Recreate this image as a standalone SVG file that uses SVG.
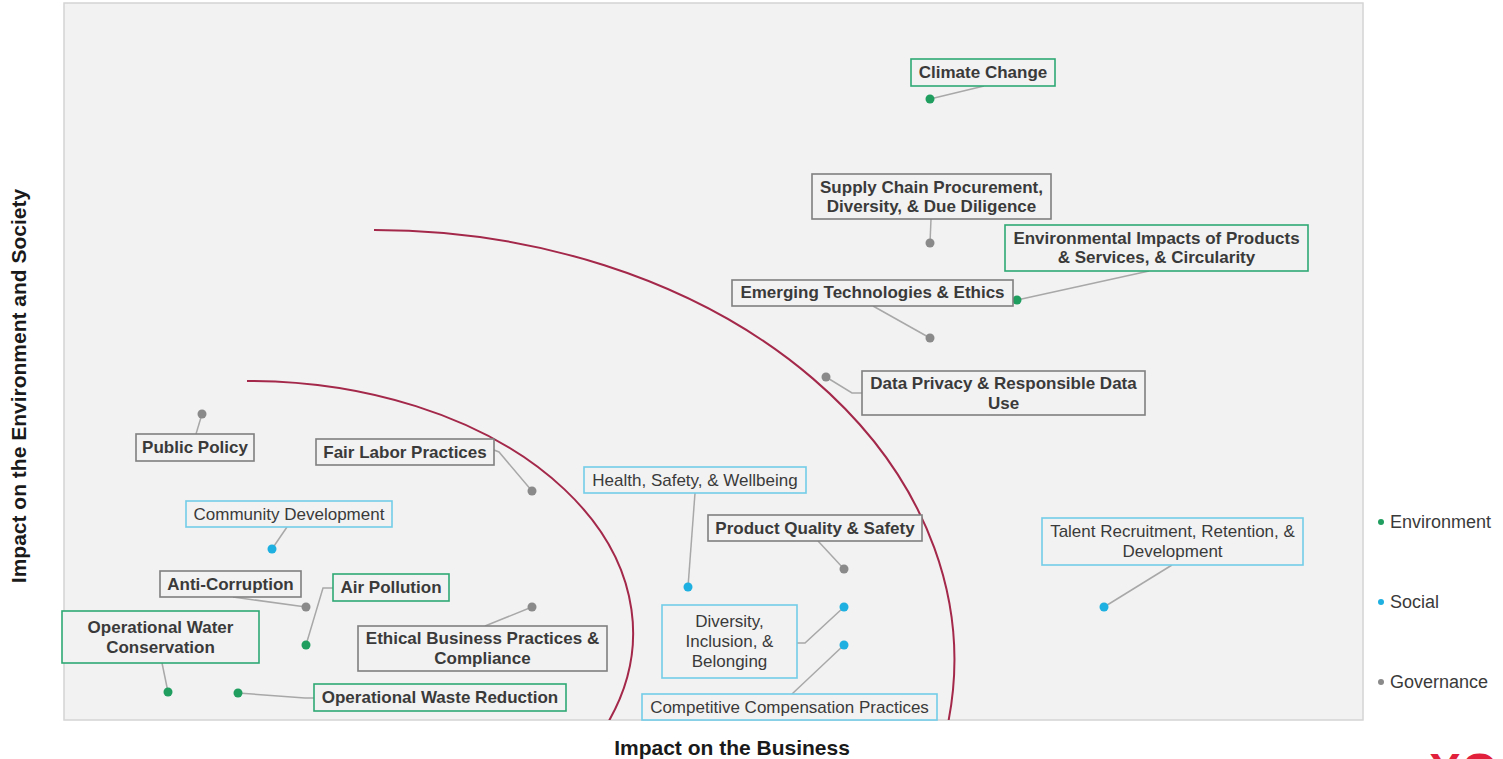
<svg xmlns="http://www.w3.org/2000/svg" width="1503" height="759" viewBox="0 0 1503 759">
<style>
.bg{fill:#f2f2f2;stroke:#d4d4d4;stroke-width:1.5}
.arc{fill:none;stroke:#a3284a;stroke-width:2}
.box{fill:#f2f2f2;stroke-width:1.6}
.env{stroke:#2ea873}
.soc{stroke:#72cce6}
.gov{stroke:#7f7f7f}
.lb{font-family:"Liberation Sans",Arial,sans-serif;font-size:17px;fill:#3a3a3a;text-anchor:middle}
.b{font-weight:bold}
.ce{fill:#1f9e60}
.cs{fill:#1eb0e0}
.cg{fill:#8a8a8a}
.con{fill:none;stroke:#a8a8a8;stroke-width:1.5}
.leg{font-family:"Liberation Sans",Arial,sans-serif;font-size:18px;fill:#3a3a3a}
.axis{font-family:"Liberation Sans",Arial,sans-serif;font-size:21px;font-weight:bold;fill:#1a1a1a;text-anchor:middle}
</style>
<defs>
<clipPath id="plotclip"><rect x="64" y="3" width="1299" height="717"/></clipPath>
</defs>
<rect width="1503" height="759" fill="#ffffff"/>
<rect class="bg" x="64" y="3" width="1299" height="717"/>
<g id="arcs" clip-path="url(#plotclip)">
<path class="arc" d="M 374 230 A 580 430 0 0 1 948.3 722"/>
<path class="arc" d="M 247 381 A 385 252 0 0 1 608.3 722"/>
</g>
<g id="connectors">
<line class="con" x1="930" y1="99" x2="984" y2="86"/>
<line class="con" x1="931" y1="219" x2="930" y2="243"/>
<line class="con" x1="1017" y1="300" x2="1149" y2="271"/>
<line class="con" x1="873" y1="306" x2="930" y2="338"/>
<polyline class="con" points="826,377 852,393 862,393"/>
<line class="con" x1="202" y1="414" x2="196" y2="434"/>
<polyline class="con" points="494,450 499,452 532,491"/>
<line class="con" x1="287" y1="527" x2="272" y2="549"/>
<line class="con" x1="233" y1="597" x2="306" y2="607"/>
<polyline class="con" points="306,645 323,588 333,588"/>
<line class="con" x1="162" y1="663" x2="168" y2="692"/>
<polyline class="con" points="238,693 305,698 314,698"/>
<line class="con" x1="485" y1="626" x2="532" y2="607"/>
<line class="con" x1="695" y1="493" x2="688" y2="587"/>
<line class="con" x1="818" y1="541" x2="844" y2="569"/>
<polyline class="con" points="797,643 805,643 844,607"/>
<line class="con" x1="792" y1="694" x2="844" y2="645"/>
<line class="con" x1="1172" y1="565" x2="1104" y2="607"/>
</g>
<g id="climate-change">
<rect class="box env" x="911" y="59" width="144" height="27"/>
<text class="lb b" x="983" y="78">Climate Change</text>
<circle class="ce" cx="930" cy="99" r="4.5"/>
</g>
<g id="supply-chain">
<rect class="box gov" x="812" y="174" width="239" height="45"/>
<text class="lb b" x="931.5" y="193">Supply Chain Procurement,</text>
<text class="lb b" x="931.5" y="212">Diversity, &amp; Due Diligence</text>
<circle class="cg" cx="930" cy="243" r="4.5"/>
</g>
<g id="environmental-impacts">
<rect class="box env" x="1005" y="225" width="303" height="46"/>
<text class="lb b" x="1156.5" y="244">Environmental Impacts of Products</text>
<text class="lb b" x="1156.5" y="263">&amp; Services, &amp; Circularity</text>
<circle class="ce" cx="1017" cy="300" r="4.5"/>
</g>
<g id="emerging-tech">
<rect class="box gov" x="732" y="280" width="281" height="26"/>
<text class="lb b" x="872.5" y="298">Emerging Technologies &amp; Ethics</text>
<circle class="cg" cx="930" cy="338" r="4.5"/>
</g>
<g id="data-privacy">
<rect class="box gov" x="862" y="371" width="283" height="44"/>
<text class="lb b" x="1003.5" y="389">Data Privacy &amp; Responsible Data</text>
<text class="lb b" x="1003.5" y="409">Use</text>
<circle class="cg" cx="826" cy="377" r="4.5"/>
</g>
<g id="public-policy">
<rect class="box gov" x="136" y="434" width="118" height="27"/>
<text class="lb b" x="195" y="453">Public Policy</text>
<circle class="cg" cx="202" cy="414" r="4.5"/>
</g>
<g id="fair-labor">
<rect class="box gov" x="316" y="439" width="178" height="26"/>
<text class="lb b" x="405" y="458">Fair Labor Practices</text>
<circle class="cg" cx="532" cy="491" r="4.5"/>
</g>
<g id="community-development">
<rect class="box soc" x="186" y="501" width="206" height="26"/>
<text class="lb" x="289" y="520">Community Development</text>
<circle class="cs" cx="272" cy="549" r="4.5"/>
</g>
<g id="anti-corruption">
<rect class="box gov" x="160" y="571" width="141" height="26"/>
<text class="lb b" x="230.5" y="590">Anti-Corruption</text>
<circle class="cg" cx="306" cy="607" r="4.5"/>
</g>
<g id="air-pollution">
<rect class="box env" x="333" y="574" width="116" height="27"/>
<text class="lb b" x="391" y="593">Air Pollution</text>
<circle class="ce" cx="306" cy="645" r="4.5"/>
</g>
<g id="water-conservation">
<rect class="box env" x="62" y="611" width="197" height="52"/>
<text class="lb b" x="160.5" y="633">Operational Water</text>
<text class="lb b" x="160.5" y="653">Conservation</text>
<circle class="ce" cx="168" cy="692" r="4.5"/>
</g>
<g id="waste-reduction">
<rect class="box env" x="314" y="684" width="252" height="27"/>
<text class="lb b" x="440" y="703">Operational Waste Reduction</text>
<circle class="ce" cx="238" cy="693" r="4.5"/>
</g>
<g id="ethical-business">
<rect class="box gov" x="358" y="626" width="249" height="45"/>
<text class="lb b" x="482.5" y="644">Ethical Business Practices &amp;</text>
<text class="lb b" x="482.5" y="664">Compliance</text>
<circle class="cg" cx="532" cy="607" r="4.5"/>
</g>
<g id="health-safety">
<rect class="box soc" x="584" y="467" width="222" height="26"/>
<text class="lb" x="695" y="486">Health, Safety, &amp; Wellbeing</text>
<circle class="cs" cx="688" cy="587" r="4.5"/>
</g>
<g id="product-quality">
<rect class="box gov" x="708" y="515" width="214" height="26"/>
<text class="lb b" x="815" y="534">Product Quality &amp; Safety</text>
<circle class="cg" cx="844" cy="569" r="4.5"/>
</g>
<g id="diversity-inclusion">
<rect class="box soc" x="662" y="605" width="135" height="73"/>
<text class="lb" x="729.5" y="627">Diversity,</text>
<text class="lb" x="729.5" y="647">Inclusion, &amp;</text>
<text class="lb" x="729.5" y="667">Belonging</text>
<circle class="cs" cx="844" cy="607" r="4.5"/>
</g>
<g id="competitive-compensation">
<rect class="box soc" x="642" y="694" width="295" height="26"/>
<text class="lb" x="789.5" y="713">Competitive Compensation Practices</text>
<circle class="cs" cx="844" cy="645" r="4.5"/>
</g>
<g id="talent-recruitment">
<rect class="box soc" x="1042" y="518" width="261" height="47"/>
<text class="lb" x="1172.5" y="537">Talent Recruitment, Retention, &amp;</text>
<text class="lb" x="1172.5" y="557">Development</text>
<circle class="cs" cx="1104" cy="607" r="4.5"/>
</g>
<g id="legend">
<circle class="ce" cx="1381" cy="522" r="3"/>
<text class="leg" x="1390" y="528">Environment</text>
<circle class="cs" cx="1381" cy="602" r="3"/>
<text class="leg" x="1390" y="608">Social</text>
<circle class="cg" cx="1381" cy="682" r="3"/>
<text class="leg" x="1390" y="688">Governance</text>
</g>
<g id="axes">
<text class="axis" x="732" y="755">Impact on the Business</text>
<text class="axis" transform="translate(26,386) rotate(-90)">Impact on the Environment and Society</text>
</g>
<text x="1429" y="787" font-family="Liberation Sans, Arial, sans-serif" font-size="48" font-weight="bold" fill="#e1213b">XO</text>
</svg>
